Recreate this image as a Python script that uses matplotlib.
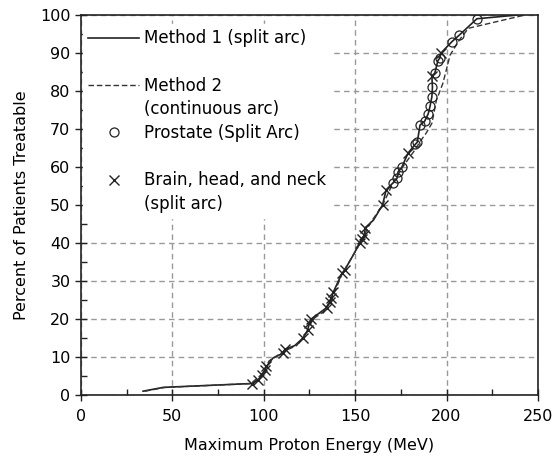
import matplotlib
matplotlib.use("Agg")
import matplotlib.pyplot as plt
from matplotlib.lines import Line2D
from matplotlib.ticker import MultipleLocator

plt.rcParams['font.family'] = ['DejaVu Sans']

# Method 1 (split arc) curve
m1_energy = [34, 45, 92.5, 93.5, 97, 99, 100.7, 101.5, 105, 110.5, 111.5, 117, 121.5, 124, 125, 126,
             134.5, 136, 137, 138, 142.8, 144.4, 148, 152.6, 153.5, 155, 155.5, 160, 165, 167,
             170.7, 172.9, 173.5, 175.6, 179, 183, 184, 185.5, 188, 190, 191, 192, 192.3, 192,
             193.6, 195.3, 196.4, 197, 203, 207, 216.6, 239]
m1_percent = [1, 2, 3, 3, 4, 5.3, 6.6, 7.5, 9.7, 11, 12, 13, 15, 17, 19, 20,
              23, 24.5, 25.5, 27, 32, 33, 36, 40, 41, 42, 44, 46, 50, 54,
              55.8, 57, 58.7, 60, 63.7, 66, 66.5, 71, 72, 74, 76, 78.5, 81, 84,
              84.7, 88, 88.7, 90, 93, 94.7, 99, 100]

# Method 2 (continuous arc) curve
m2_energy = [35, 46, 93, 99, 103, 111, 118, 123, 127, 133, 137, 143, 148, 154, 158, 165,
             170, 176, 182, 186, 189, 192, 194.5, 198, 202, 207, 212, 243]
m2_percent = [1, 2, 3, 5.5, 9, 11.5, 13, 16, 20, 22, 25, 32, 36, 41, 45, 50,
              55, 60, 64, 67, 69, 71.5, 77.6, 82, 89.5, 93.4, 96.5, 100]

# Prostate (split arc) points
prostate_energy = [170.7, 172.9, 173.5, 175.6, 183, 184, 185.5, 188, 190, 191, 192, 192.3,
                   193.6, 195.3, 196.4, 203, 207, 216.6]
prostate_percent = [55.8, 57, 58.7, 60, 66, 66.5, 71, 72, 74, 76, 78.5, 81,
                    84.7, 88, 88.7, 93, 94.7, 99]

# Brain, head, and neck (split arc) points
brain_energy = [93.5, 97, 99, 100.7, 101.5, 110.5, 111.5, 121.5, 124, 125, 126, 134.5, 136,
                137, 138, 142.8, 144.4, 152.6, 153.5, 155, 155.5, 165, 167, 179, 192, 197]
brain_percent = [3, 4, 5.3, 6.6, 7.5, 11, 12, 15, 17, 19, 20, 23, 24.5,
                 25.5, 27, 32, 33, 40, 41, 42, 44, 50, 54, 63.7, 84, 90]

fig = plt.figure(figsize=(5.58, 4.68), dpi=100)
ax = fig.add_axes([0.145, 0.156, 0.819, 0.812])

ax.plot(m1_energy, m1_percent, color='#222222', lw=1.2, zorder=3)
ax.plot(m2_energy, m2_percent, color='#333333', lw=1.0, ls=(0, (4, 2)), zorder=3)
ax.plot(prostate_energy, prostate_percent, ls='none', marker='o', ms=6.5,
        mfc='none', mec='#222222', mew=0.9, zorder=4)
ax.plot(brain_energy, brain_percent, ls='none', marker='x', ms=7.5,
        color='#222222', mew=1.0, zorder=4)

ax.set_xlim(0, 250)
ax.set_ylim(0, 100)
ax.xaxis.set_major_locator(MultipleLocator(50))
ax.xaxis.set_minor_locator(MultipleLocator(25))
ax.yaxis.set_major_locator(MultipleLocator(10))
ax.yaxis.set_minor_locator(MultipleLocator(5))
ax.tick_params(which='major', direction='inout', length=8, width=1, labelsize=11.5, color='#222222')
ax.tick_params(which='minor', direction='in', length=4, width=1, color='#222222')
ax.tick_params(axis='x', pad=6)
for s in ax.spines.values():
    s.set_linewidth(1.2)
    s.set_color('#222222')
    s.set_zorder(6)

ax.grid(True, which='major', color='#999999', ls=(0, (4, 3)), lw=1.0)
ax.set_axisbelow(True)

ax.set_xlabel('Maximum Proton Energy (MeV)', fontsize=11.5, labelpad=10)
ax.set_ylabel('Percent of Patients Treatable', fontsize=11.5, labelpad=8)

blank = Line2D([], [], ls='none')
handles = [
    Line2D([], [], color='#222222', lw=1.2),
    blank,
    Line2D([], [], color='#333333', lw=1.0, ls=(0, (4, 2))),
    blank,
    Line2D([], [], ls='none', marker='o', ms=6.5, mfc='none', mec='#222222', mew=0.9),
    blank,
    Line2D([], [], ls='none', marker='x', ms=7.5, color='#222222', mew=1.0),
    blank,
]
labels = ['Method 1 (split arc)', ' ', 'Method 2', '(continuous arc)',
          'Prostate (Split Arc)', ' ', 'Brain, head, and neck', '(split arc)']
leg = ax.legend(handles, labels, loc='upper left', bbox_to_anchor=(0.004, 0.975),
                frameon=True, fancybox=False,
                fontsize=12, handlelength=3.1, handletextpad=0.3,
                labelspacing=0.34, borderpad=0.3, borderaxespad=0.0)
leg.get_frame().set_facecolor('white')
leg.get_frame().set_edgecolor('white')
leg.get_frame().set_alpha(1)
leg.set_zorder(5)

fig.savefig('out.png', dpi=100)
